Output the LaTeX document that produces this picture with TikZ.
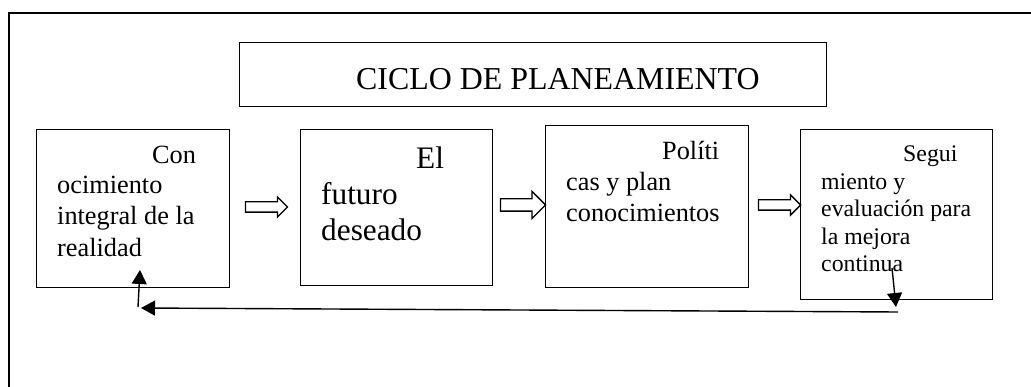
\documentclass[tikz,border=0pt]{standalone}
\usepackage{fontspec}
\setmainfont{Liberation Serif}
\usetikzlibrary{shapes.arrows,arrows.meta}
\tikzset{
  box/.style={draw, line width=1.3pt, inner sep=0pt, anchor=north west},
  txtA/.style={anchor=base west, inner sep=0pt, font=\fontsize{26.3}{30}\selectfont},
  txtB/.style={anchor=base west, inner sep=0pt, font=\fontsize{31.3}{36}\selectfont},
  txtC/.style={anchor=base west, inner sep=0pt, font=\fontsize{23.8}{28}\selectfont},
  blockarrow/.style={draw, line width=1.3pt, single arrow, shape border rotate=0, single arrow head indent=0pt},
  fb/.style={line width=1.4pt, -{Triangle[length=14pt,width=15pt]}},
  fbline/.style={line width=1.4pt}
}
\begin{document}
\begin{tikzpicture}[x=1pt,y=-1pt]
\useasboundingbox (0,0) rectangle (1031,387);
% outer frame (partly visible)
\draw[line width=1.3pt] (9,387) -- (9,13) -- (1031,13);
% title
\node[box, minimum width=587pt, minimum height=64pt] (title) at (239,42) {};
\node[txtB, font=\fontsize{31.9}{36}\selectfont] (titletext) at (356,90) {CICLO DE PLANEAMIENTO};
% box 1
\node[box, minimum width=193pt, minimum height=158pt] (b1) at (36,129) {};
\node[txtA] (b1l1) at (152,164) {Con};
\node[txtA] (b1l2) at (57,194) {ocimiento};
\node[txtA] (b1l3) at (57,225) {integral de la};
\node[txtA] (b1l4) at (57,257) {realidad};
% box 2
\node[box, minimum width=192pt, minimum height=156pt] (b2) at (300,129) {};
\node[txtB] (b2l1) at (416,169) {El};
\node[txtB] (b2l2) at (321,205) {futuro};
\node[txtB] (b2l3) at (321,241) {deseado};
% box 3
\node[box, minimum width=203pt, minimum height=162pt] (b3) at (545,125) {};
\node[txtA] (b3l1) at (662,160) {Políti};
\node[txtA] (b3l2) at (566,191) {cas y plan};
\node[txtA] (b3l3) at (566,222) {conocimientos};
% box 4
\node[box, minimum width=192pt, minimum height=170pt] (b4) at (800,129) {};
\node[txtC] (b4l1) at (903,162) {Segui};
\node[txtC] (b4l2) at (821,190) {miento y};
\node[txtC] (b4l3) at (821,217) {evaluación para};
\node[txtC] (b4l4) at (821,245) {la mejora};
\node[txtC] (b4l5) at (821,272) {continua};
% block arrows
\node[blockarrow, minimum height=42pt, minimum width=19pt, inner sep=4.5pt, single arrow head extend=5pt] (a1) at (264,207) {};
\node[blockarrow, minimum height=45pt, minimum width=26pt, inner sep=5.5pt, single arrow head extend=7.5pt] (a2) at (520,205) {};
\node[blockarrow, minimum height=42pt, minimum width=19pt, inner sep=4.5pt, single arrow head extend=5pt] (a3) at (777,205) {};
% feedback
\coordinate (d1) at (892,268);
\coordinate (d2) at (896,307);
\coordinate (h1) at (898,312);
\coordinate (h2) at (141,308);
\coordinate (u1) at (138,307);
\coordinate (u2) at (140,270);
\draw[fb] (d1) -- (d2);
\draw[fb] (h1) -- (h2);
\draw[fb] (u1) -- (u2);
\end{tikzpicture}
\end{document}
